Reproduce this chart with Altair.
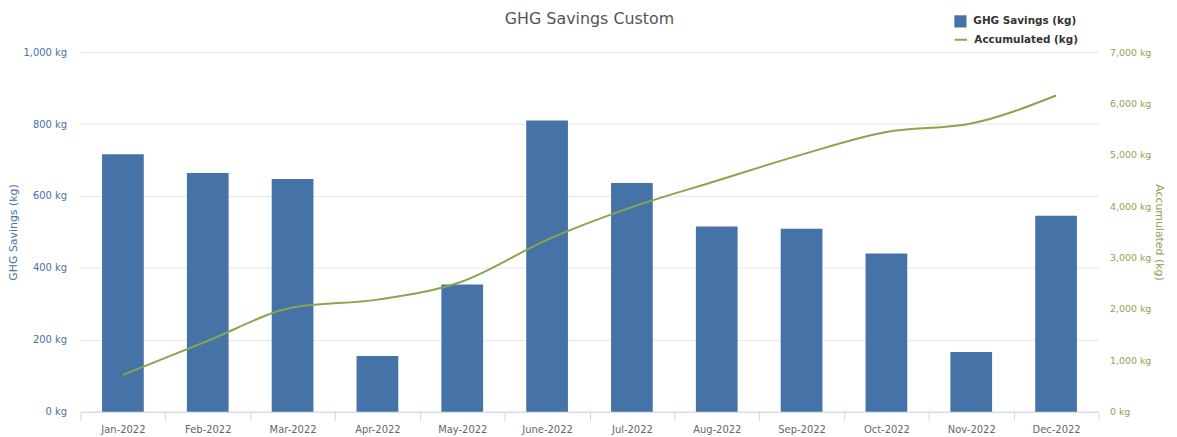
import altair as alt
import pandas as pd

months = ["Jan-2022", "Feb-2022", "Mar-2022", "Apr-2022", "May-2022", "June-2022",
          "Jul-2022", "Aug-2022", "Sep-2022", "Oct-2022", "Nov-2022", "Dec-2022"]
savings = [716, 664, 647, 155, 354, 810, 636, 515, 509, 440, 166, 545]
accumulated = [716, 1380, 2027, 2182, 2536, 3346, 3982, 4497, 5006, 5446, 5612, 6157]
left_ticks = [0, 200, 400, 600, 800, 1000]
right_ticks = [0, 1000, 2000, 3000, 4000, 5000, 6000, 7000]

df = pd.DataFrame({
    "month": months,
    "savings": savings,
    "accumulated": accumulated,
    "s_name": ["GHG Savings (kg)"] * len(months),
    "a_name": ["Accumulated (kg)"] * len(months),
})

FONT = "DejaVu Sans"
BLUE = "#4572A7"
GREEN = "#89A54E"

x = alt.X(
    "month:N", sort=months, title=None,
    scale=alt.Scale(paddingInner=0, paddingOuter=0),
    axis=alt.Axis(labelAngle=0, domain=True, domainColor="#ccd6eb", ticks=True,
                  tickColor="#ccd6eb", tickSize=9, tickBand="extent",
                  labelColor="#666666", labelFontSize=10, labelFont=FONT,
                  labelPadding=4, grid=False),
)

bars = alt.Chart(df).mark_bar(size=42).encode(
    x=x,
    y=alt.Y("savings:Q", scale=alt.Scale(domain=[0, 1000], nice=False),
            axis=alt.Axis(title="GHG Savings (kg)", values=left_ticks,
                          labelExpr="format(datum.value, ',') + ' kg'",
                          labelColor=BLUE, labelFontSize=10, labelFont=FONT,
                          labelPadding=14, titleColor=BLUE, titleFontSize=11,
                          titleFont=FONT, titleFontWeight="normal", titlePadding=4,
                          domain=False, ticks=False, grid=True, gridColor="#e6e6e6")),
    color=alt.Color("s_name:N",
                    scale=alt.Scale(domain=["GHG Savings (kg)"], range=[BLUE]),
                    legend=alt.Legend(title=None, orient="none", legendX=879, legendY=-38,
                                      symbolType="square", symbolSize=150,
                                      labelFont=FONT, labelFontSize=10.5,
                                      labelFontWeight="bold", labelColor="#333333",
                                      labelOffset=6, padding=0)),
)

line = alt.Chart(df).mark_line(interpolate="monotone", strokeWidth=2).encode(
    x=x,
    y=alt.Y("accumulated:Q", scale=alt.Scale(domain=[0, 7000], nice=False),
            axis=alt.Axis(title="Accumulated (kg)", orient="right", values=right_ticks,
                          labelExpr="format(datum.value, ',') + ' kg'",
                          labelColor=GREEN, labelFontSize=9.5, labelFont=FONT,
                          labelPadding=11, titleColor=GREEN, titleFontSize=11,
                          titleFont=FONT, titleFontWeight="normal", titlePadding=3,
                          domain=False, ticks=False, grid=False)),
    stroke=alt.Stroke("a_name:N",
                      scale=alt.Scale(domain=["Accumulated (kg)"], range=[GREEN]),
                      legend=alt.Legend(title=None, orient="none", legendX=879, legendY=-20,
                                        symbolType="stroke", symbolStrokeWidth=2,
                                        symbolSize=150,
                                        labelFont=FONT, labelFontSize=10.5,
                                        labelFontWeight="bold", labelColor="#333333",
                                        labelOffset=6, padding=0)),
)

chart = alt.layer(bars, line).resolve_scale(y="independent").properties(
    width=1025, height=362,
    title=alt.TitleParams("GHG Savings Custom", font=FONT, fontSize=16,
                          fontWeight="normal", color="#555555", anchor="middle",
                          offset=0, dy=13),
    autosize=alt.AutoSizeParams(type="none"),
    padding={"left": 73, "top": 43, "right": 71, "bottom": 24},
).configure_view(stroke=None)

chart.save("out.html", embed_options={"renderer": "svg", "actions": False})
